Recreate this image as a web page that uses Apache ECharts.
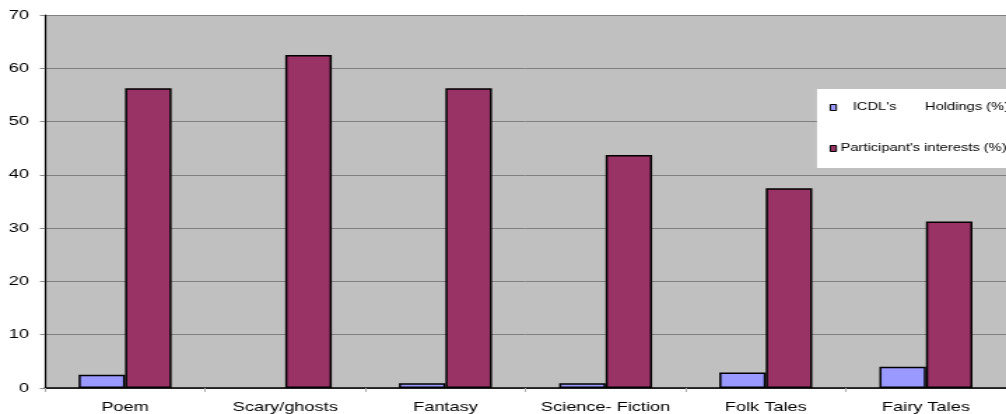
<!DOCTYPE html>
<html>
<head>
<meta charset="utf-8">
<script src="https://cdn.jsdelivr.net/npm/echarts@6/dist/echarts.min.js"></script>
<style>
    html, body { margin: 0; padding: 0; background: #fff; overflow: hidden; }
    /* 原图是横向拉伸过的，这里整体横向放大 1.4 倍 */
    #chart { width: 719px; height: 414px; transform: scaleX(1.3992); transform-origin: 0 0; }
</style>
</head>
<body>
<div id="chart"></div>
<script>
// 分类与数据
var categories = ['Poem', 'Scary/ghosts', 'Fantasy', 'Science- Fiction', 'Folk Tales', 'Fairy Tales'];
var holdings = [2.5, 0, 0.9, 0.9, 2.9, 4.0];
var interests = [56.25, 62.5, 56.25, 43.75, 37.5, 31.25];
var yTicks = [0, 10, 20, 30, 40, 50, 60, 70];
var seriesNames = ["   ICDL's       Holdings (%)", "Participant's interests (%)"];

var sx = 1.3992; // 横向拉伸比例

var box = echarts.init(document.getElementById('chart'));
var option = {
    animation: false,
    textStyle: { fontFamily: 'Liberation Sans, Arial, sans-serif' },
    grid: {
        left: 45 / sx,
        top: 15,
        right: -5 / sx,
        bottom: 26,
        show: true,
        backgroundColor: '#c0c0c0',
        borderWidth: 0
    },
    legend: {
        orient: 'vertical',
        left: 817 / sx,
        top: 89,
        backgroundColor: '#ffffff',
        padding: [13, 20, 14, 9],
        itemGap: 30,
        itemWidth: 4.3,
        itemHeight: 6,
        icon: 'rect',
        textStyle: { fontSize: 10.5, color: '#000', padding: [0, 0, 0, -2] },
        data: [
            { name: seriesNames[0], itemStyle: { color: '#9999ff', borderColor: '#000', borderWidth: 1 } },
            { name: seriesNames[1], itemStyle: { color: '#993366', borderColor: '#000', borderWidth: 1 } }
        ]
    },
    xAxis: {
        type: 'category',
        data: categories,
        axisLine: { lineStyle: { color: '#000', width: 1.5 } },
        axisTick: { show: true, length: 4, lineStyle: { color: '#aaa' } },
        axisLabel: { fontSize: 13, color: '#000', margin: 13, interval: 0 },
        splitLine: { show: false }
    },
    yAxis: {
        type: 'value',
        min: yTicks[0],
        max: yTicks[yTicks.length - 1],
        interval: 10,
        axisLine: { show: true, lineStyle: { color: '#000', width: 1.2 } },
        axisTick: { show: true, length: 3.6, lineStyle: { color: '#888' } },
        axisLabel: { fontSize: 13, color: '#000', margin: 11.5 },
        splitLine: { show: true, lineStyle: { color: '#808080', width: 1 } }
    },
    series: [
        {
            name: seriesNames[0],
            type: 'bar',
            data: holdings.map(function (v) {
                // 值为 0 时不画边框
                return v === 0 ? { value: v, itemStyle: { borderWidth: 0 } } : v;
            }),
            barWidth: 46.5 / sx,
            barGap: '0%',
            itemStyle: { color: '#9999ff', borderColor: '#000', borderWidth: 1.5 }
        },
        {
            name: seriesNames[1],
            type: 'bar',
            data: interests,
            barWidth: 46.5 / sx,
            barGap: '0%',
            itemStyle: { color: '#993366', borderColor: '#000', borderWidth: 1.5 }
        }
    ]
};
box.setOption(option);
</script>
</body>
</html>
